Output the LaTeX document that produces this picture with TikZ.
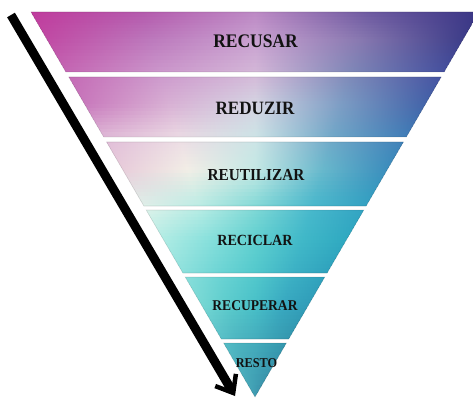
\documentclass[tikz,border=0pt]{standalone}
\usepackage{fontspec}
\newfontfamily\labfont{Liberation Serif}[FakeStretch=0.91]
\usetikzlibrary{arrows.meta}
\newcommand\lblfont[1]{\labfont\bfseries\fontsize{#1}{#1}\selectfont}
% key rows: five colours across each row (left edge, quarter, centre, three-quarter, right edge)
\newcommand\keyrow[6]{%
  \definecolor{A#1}{HTML}{#2}\definecolor{B#1}{HTML}{#3}\definecolor{C#1}{HTML}{#4}%
  \definecolor{D#1}{HTML}{#5}\definecolor{E#1}{HTML}{#6}}
\keyrow{0}{C03A9C}{B458AC}{BC88C4}{6C58A0}{383484}
\keyrow{1}{C04AA4}{BC78BC}{C8A0D0}{8878B0}{3C3C88}
\keyrow{2}{C468B4}{CC98CC}{D4B8D8}{7E88B8}{4450A0}
\keyrow{3}{C878BC}{D8B0D4}{D4D4E2}{7C9CC4}{4262A8}
\keyrow{4}{E0BCD8}{ECDCE4}{CCE4E6}{70A8C8}{3E7EB8}
\keyrow{5}{E8CCDA}{F2EEE6}{C4E8E4}{68B8CC}{3A8CBC}
\keyrow{6}{E0F2EA}{B8ECE4}{80D8D6}{48B8CC}{32A2C2}
\keyrow{7}{B0ECE4}{88E0DC}{60D0D0}{40B8C8}{2EA8C0}
\keyrow{8}{8CE0DC}{6CD4D4}{52C8CC}{3CB0C4}{2EA0BC}
\keyrow{9}{78D8D4}{5CCCCC}{48C0C8}{38A8C0}{309CB8}
\keyrow{10}{58C0C8}{4CB4C0}{44ACBC}{3AA0B4}{3294AC}
\keyrow{11}{46A8B8}{42A0B4}{3E9AB0}{3C94AC}{3A90A8}
\definecolor{labtext}{HTML}{121212}
\colorlet{sA}{white}\colorlet{sB}{white}\colorlet{sC}{white}\colorlet{sD}{white}\colorlet{sE}{white}
\pgfdeclarehorizontalshading[sA,sB,sC,sD,sE]{rowshade}{100bp}{%
  color(0bp)=(sA); color(25bp)=(sA); color(37.5bp)=(sB); color(50bp)=(sC);
  color(62.5bp)=(sD); color(75bp)=(sE); color(100bp)=(sE)}
\begin{document}
\begin{tikzpicture}[x=1pt,y=-1pt,
  lbl/.style={inner sep=0pt,text=labtext},
  bigarrow/.style={line width=9pt,black,
    -{Straight Barb[length=15pt,width=24pt,line width'=4.5pt]}},
  bandedge/.style={draw=black,draw opacity=0.12,line width=0.6pt}]
\clip (0,0) rectangle (473,398);
\fill[white] (0,0) rectangle (473,398);
% bands
\begin{scope}
\clip (31,12) -- (479,12) -- (444.1,72) -- (65.9,72) -- cycle
      (68.8,77) -- (441.2,77) -- (406.3,137) -- (103.7,137) -- cycle
      (106.6,142) -- (403.4,142) -- (366.1,206) -- (143.9,206) -- cycle
      (146.2,210) -- (363.8,210) -- (327.1,273) -- (182.9,273) -- cycle
      (185.2,277) -- (324.8,277) -- (288.7,339) -- (221.3,339) -- cycle
      (223.6,343) -- (286.4,343) -- (255,397) -- cycle;
\foreach \ya/\yb/\i/\j in {12/40/0/1,40/74/1/2,74/105/2/3,105/140/3/4,
    140/170/4/5,170/208/5/6,208/240/6/7,240/275/7/8,275/305/8/9,
    305/341/9/10,341/397/10/11}{
  \foreach \k in {0,...,9}{
    \pgfmathsetmacro\t{(\k+0.5)*10}
    \pgfmathsetmacro\ys{\ya+(\yb-\ya)*\k/10}
    \pgfmathsetmacro\ye{\ya+(\yb-\ya)*(\k+1)/10+0.8}
    \pgfmathsetmacro\hw{0.581818*(397-\ys)+2}
    \colorlet{sA}{A\j!\t!A\i}
    \colorlet{sB}{B\j!\t!B\i}
    \colorlet{sC}{C\j!\t!C\i}
    \colorlet{sD}{D\j!\t!D\i}
    \colorlet{sE}{E\j!\t!E\i}
    \shade[shading=rowshade] (255-\hw,\ys) rectangle (255+\hw,\ye);
  }
}
\end{scope}
\path[bandedge] (31,12) -- (479,12) -- (444.1,72) -- (65.9,72) -- cycle
      (68.8,77) -- (441.2,77) -- (406.3,137) -- (103.7,137) -- cycle
      (106.6,142) -- (403.4,142) -- (366.1,206) -- (143.9,206) -- cycle
      (146.2,210) -- (363.8,210) -- (327.1,273) -- (182.9,273) -- cycle
      (185.2,277) -- (324.8,277) -- (288.7,339) -- (221.3,339) -- cycle
      (223.6,343) -- (286.4,343) -- (255,397) -- cycle;
% arrow
\coordinate (arrS) at (11,15);
\coordinate (arrT) at (235,396);
\draw[bigarrow] (arrS) -- (arrT);
% labels
\node[lbl,font=\lblfont{19.2}] (recusar) at (255.5,41.7) {RECUSAR};
\node[lbl,font=\lblfont{18.8}] (reduzir) at (255,108.5) {REDUZIR};
\node[lbl,font=\lblfont{16.8}] (reutilizar) at (256,175) {REUTILIZAR};
\node[lbl,font=\lblfont{15.5}] (reciclar) at (255,240) {RECICLAR};
\node[lbl,font=\lblfont{14.9}] (recuperar) at (255,306) {RECUPERAR};
\node[lbl,font=\lblfont{13.5}] (resto) at (256.5,363) {RESTO};
\end{tikzpicture}
\end{document}
